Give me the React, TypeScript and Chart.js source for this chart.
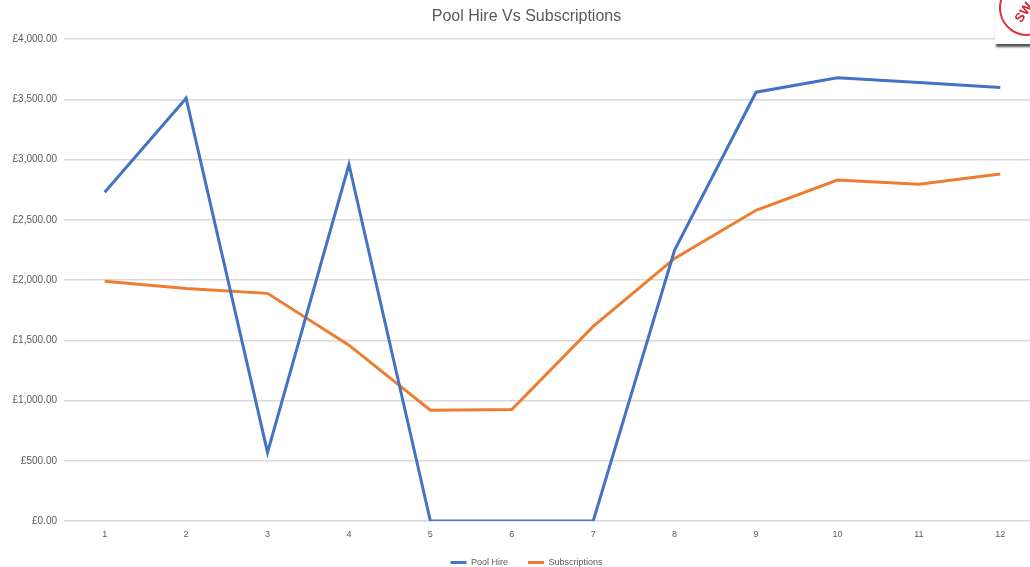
import React, { useEffect, useRef } from "react";
import { Chart, registerables } from "chart.js";

Chart.register(...registerables);

const months = ["1", "2", "3", "4", "5", "6", "7", "8", "9", "10", "11", "12"];
const poolHire = [2730, 3510, 570, 2960, 0, 0, 0, 2250, 3560, 3680, 3640, 3600];
const subscriptions = [1990, 1930, 1890, 1460, 920, 925, 1615, 2180, 2580, 2830, 2795, 2880];
const yTicks = [0, 500, 1000, 1500, 2000, 2500, 3000, 3500, 4000];

const fmt = (v: number) =>
  "£" + v.toLocaleString("en-GB", { minimumFractionDigits: 2, maximumFractionDigits: 2 });

export default function App() {
  const ref = useRef<HTMLCanvasElement | null>(null);
  useEffect(() => {
    document.body.style.margin = "0";
    document.body.style.overflow = "hidden";
    const chart = new Chart(ref.current!, {
      type: "line",
      data: {
        labels: months,
        datasets: [
          {
            label: "Pool Hire",
            data: poolHire,
            borderColor: "#4472C4",
            backgroundColor: "#4472C4",
            borderWidth: 3,
            pointRadius: 0,
            tension: 0,
          },
          {
            label: "Subscriptions",
            data: subscriptions,
            borderColor: "#ED7D31",
            backgroundColor: "#ED7D31",
            borderWidth: 3,
            pointRadius: 0,
            tension: 0,
          },
        ],
      },
      options: {
        animation: false,
        responsive: false,
        layout: { padding: { left: 12, right: 19, top: 0, bottom: 0 } },
        plugins: {
          title: {
            display: true,
            text: "Pool Hire Vs Subscriptions",
            color: "#595959",
            font: { family: "Liberation Sans", size: 16, weight: "normal" },
            padding: { top: 7, bottom: 13 },
          },
          legend: {
            position: "bottom",
            labels: {
              color: "#595959",
              font: { family: "Liberation Sans", size: 9 },
              boxWidth: 16,
              boxHeight: 3,
              padding: 20,
              generateLabels: (c: any) =>
                Chart.defaults.plugins.legend.labels
                  .generateLabels(c)
                  .map((l: any) => ({ ...l, lineWidth: 0 })),
            },
          },
          tooltip: { enabled: false },
        },
        scales: {
          x: {
            offset: true,
            afterFit: (s: any) => {
              s.height = 17;
            },
            grid: { display: false, drawTicks: false },
            border: { display: false },
            ticks: {
              color: "#595959",
              font: { family: "Liberation Sans", size: 9 },
              padding: 8,
            },
          },
          y: {
            min: 0,
            max: 4000,
            afterBuildTicks: (s: any) => {
              s.ticks = yTicks.map((v) => ({ value: v }));
            },
            afterFit: (s: any) => {
              s.width = 52;
            },
            grid: { color: "#d9d9d9", lineWidth: 1.5, drawTicks: false },
            border: { display: false },
            ticks: {
              color: "#595959",
              font: { family: "Liberation Sans", size: 10 },
              padding: 7,
              callback: (v: any) => fmt(Number(v)),
            },
          },
        },
      },
    });
    return () => chart.destroy();
  }, []);
  return (
    <div style={{ position: "fixed", left: 0, top: 0, width: 1030, height: 567, overflow: "hidden", background: "#fff" }}>
      <canvas ref={ref} width={1060} height={577} style={{ display: "block" }} />
      <div
        style={{
          position: "absolute",
          left: 995,
          top: -6,
          width: 40,
          height: 50,
          background: "#fff",
          boxShadow: "1px 3px 2px #555",
          overflow: "hidden",
        }}
      >
        <div
          style={{
            position: "absolute",
            left: 4,
            top: -14,
            width: 52,
            height: 52,
            borderRadius: "50%",
            border: "2px solid #e03040",
            color: "#d02030",
            fontFamily: "Liberation Sans",
            fontWeight: "bold",
            fontSize: 13,
            lineHeight: "52px",
            textIndent: 10,
            transform: "rotate(-55deg)",
          }}
        >
          SW
        </div>
      </div>
    </div>
  );
}
